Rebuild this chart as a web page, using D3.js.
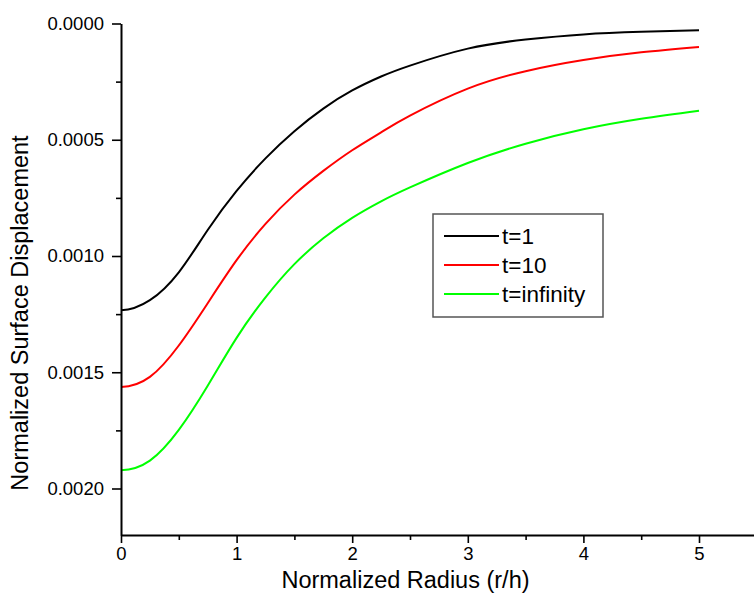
<!DOCTYPE html>
<html>
<head>
<meta charset="utf-8">
<script src="https://cdn.jsdelivr.net/npm/d3@7"></script>
<style>
  html, body { margin: 0; padding: 0; background: #fff; }
  svg { display: block; font-family: Arial, "Liberation Sans", sans-serif; }
</style>
</head>
<body>
<svg id="chart" width="754" height="596"></svg>
<script>
// ---- data ----
const radius = [0, 0.25, 0.5, 0.75, 1, 1.25, 1.5, 1.75, 2, 2.25, 2.5, 3, 3.5, 4, 4.5, 5];
const t1 = [0.001233, 0.001190, 0.001070, 0.000888, 0.000720, 0.000580, 0.000463, 0.000366, 0.000288, 0.000228, 0.000181, 0.000108, 0.0000690, 0.0000470, 0.0000360, 0.0000293];
const t10 = [0.001563, 0.001520, 0.001385, 0.001203, 0.001018, 0.000862, 0.000736, 0.000634, 0.000545, 0.000468, 0.000396, 0.000280, 0.000205, 0.000157, 0.000124, 0.000101];
const tInf = [0.001921, 0.001880, 0.001748, 0.001558, 0.001352, 0.001178, 0.001035, 0.000924, 0.000836, 0.000765, 0.000705, 0.000600, 0.000517, 0.000455, 0.000410, 0.000375];
const seriesNames = ["t=1", "t=10", "t=infinity"];
const seriesColors = ["#000000", "#ff0000", "#00ff00"];
const xTicks = [0, 1, 2, 3, 4, 5];
const xMinorTicks = [0.5, 1.5, 2.5, 3.5, 4.5];
const yTicks = [0.0000, 0.0005, 0.0010, 0.0015, 0.0020];
const yMinorTicks = [0.00025, 0.00075, 0.00125, 0.00175];
const xTitle = "Normalized Radius (r/h)";
const yTitle = "Normalized Surface Displacement";

const allSeries = [t1, t10, tInf];

// ---- layout ----
const svg = d3.select("#chart");
const mLeft = 121, mTop = 23.5, mBottom = 535;
const x = d3.scaleLinear().domain([0, 5.5]).range([mLeft, mLeft + 5.5 * 115.6]);
const y = d3.scaleLinear().domain([0, 0.0022]).range([mTop, mBottom]);

svg.append("defs").append("clipPath").attr("id", "plotclip")
  .append("rect")
  .attr("x", x(0)).attr("y", 0)
  .attr("width", 754 - x(0)).attr("height", mBottom);

// curves (profile is symmetric about r = 0, so mirror the first points to get a flat start)
const line = d3.line()
  .x(d => x(d[0]))
  .y(d => y(d[1]))
  .curve(d3.curveNatural);

allSeries.forEach((s, i) => {
  const pts = radius.map((r, j) => [r, s[j]]);
  const mirrored = [[-radius[2], s[2]], [-radius[1], s[1]]];
  svg.append("path")
    .datum(mirrored.concat(pts))
    .attr("clip-path", "url(#plotclip)")
    .attr("fill", "none")
    .attr("stroke", seriesColors[i])
    .attr("stroke-width", 2)
    .attr("d", line);
});

// axes
const fontTick = 18.5;
svg.append("g")
  .attr("transform", `translate(${mLeft},0)`)
  .call(d3.axisLeft(y).tickValues(yTicks).tickFormat(d3.format(".4f")).tickSize(9).tickSizeOuter(0).tickPadding(8));
const yMinor = svg.append("g")
  .attr("transform", `translate(${mLeft},0)`)
  .call(d3.axisLeft(y).tickValues(yMinorTicks).tickFormat("").tickSize(5).tickSizeOuter(0));
yMinor.select(".domain").remove();

svg.append("g")
  .attr("transform", `translate(0,${mBottom})`)
  .call(d3.axisBottom(x).tickValues(xTicks).tickFormat(d3.format("d")).tickSize(8).tickSizeOuter(0).tickPadding(4));
const xMinor = svg.append("g")
  .attr("transform", `translate(0,${mBottom})`)
  .call(d3.axisBottom(x).tickValues(xMinorTicks).tickFormat("").tickSize(5).tickSizeOuter(0));
xMinor.select(".domain").remove();

svg.selectAll(".domain").attr("stroke", "#000").attr("stroke-width", 2);
svg.selectAll(".tick line").attr("stroke", "#000").attr("stroke-width", 1.6);
svg.selectAll(".tick text")
  .attr("font-family", "Arial, 'Liberation Sans', sans-serif")
  .attr("font-size", fontTick)
  .attr("fill", "#000");

// titles
svg.append("text")
  .attr("x", (121 + 700) / 2 - 5)
  .attr("y", 588)
  .attr("text-anchor", "middle")
  .attr("font-size", 23.5)
  .attr("fill", "#000")
  .text(xTitle);

svg.append("text")
  .attr("transform", `translate(28,313) rotate(-90)`)
  .attr("text-anchor", "middle")
  .attr("font-size", 23.5)
  .attr("fill", "#000")
  .text(yTitle);

// legend
const lg = svg.append("g").attr("transform", "translate(433,214)");
lg.append("rect")
  .attr("width", 170).attr("height", 103)
  .attr("fill", "#fff").attr("stroke", "#555").attr("stroke-width", 1.5);
seriesNames.forEach((n, i) => {
  const yy = 22 + i * 29;
  lg.append("line")
    .attr("x1", 11).attr("x2", 66).attr("y1", yy).attr("y2", yy)
    .attr("stroke", seriesColors[i]).attr("stroke-width", 2);
  lg.append("text")
    .attr("x", 69).attr("y", yy).attr("dy", "0.35em")
    .attr("font-size", 22.5).attr("fill", "#000")
    .text(n);
});
</script>
</body>
</html>
